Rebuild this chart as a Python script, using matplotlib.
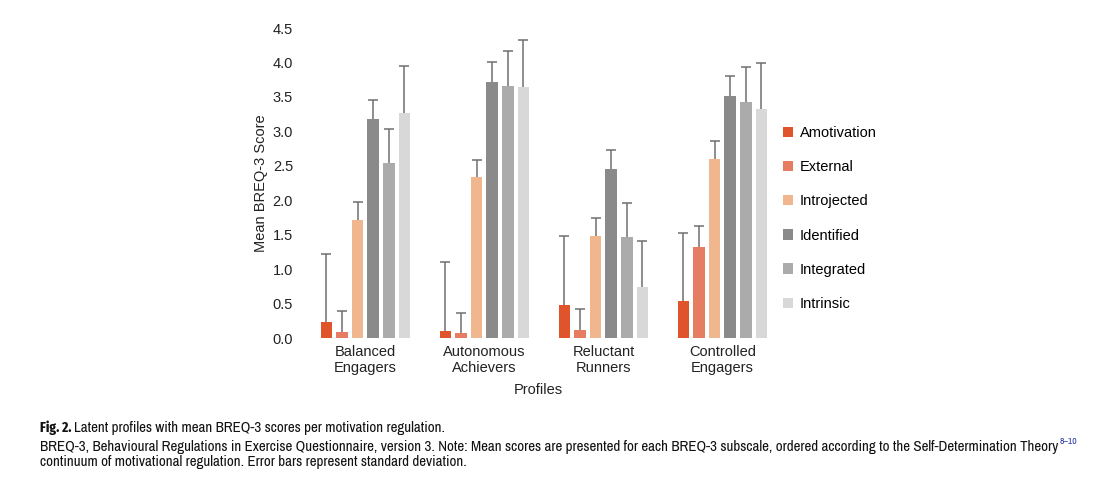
import numpy as np
import matplotlib
matplotlib.use("Agg")
import matplotlib.pyplot as plt

profiles = ["Balanced\nEngagers", "Autonomous\nAchievers", "Reluctant\nRunners", "Controlled\nEngagers"]
regulations = ["Amotivation", "External", "Introjected", "Identified", "Integrated", "Intrinsic"]
colors = ["#E0542C", "#E67D62", "#F0B68E", "#8A8A8A", "#ABABAB", "#D8D8D8"]

# mean per regulation, one value per profile
amotivation = [0.23, 0.10, 0.48, 0.54]
external = [0.08, 0.07, 0.11, 1.32]
introjected = [1.71, 2.33, 1.48, 2.60]
identified = [3.18, 3.71, 2.45, 3.52]
integrated = [2.54, 3.66, 1.46, 3.43]
intrinsic = [3.27, 3.64, 0.74, 3.32]

# standard deviations (upper error bar only)
sd_amotivation = [0.99, 1.00, 1.00, 0.99]
sd_external = [0.31, 0.30, 0.31, 0.30]
sd_introjected = [0.26, 0.26, 0.26, 0.26]
sd_identified = [0.28, 0.29, 0.28, 0.28]
sd_integrated = [0.50, 0.50, 0.50, 0.50]
sd_intrinsic = [0.68, 0.68, 0.67, 0.67]

means = [amotivation, external, introjected, identified, integrated, intrinsic]
sds = [sd_amotivation, sd_external, sd_introjected, sd_identified, sd_integrated, sd_intrinsic]

plt.rcParams["font.family"] = ["Liberation Sans", "DejaVu Sans"]
CAP_FONT = ["Archivo Narrow", "DejaVu Sans"]
BOLD_FONT = ["Fira Sans Extra Condensed", "DejaVu Sans"]

fig = plt.figure(figsize=(11, 4.93), dpi=100)
ax = fig.add_axes([300 / 1100, 1 - 338 / 493, 476 / 1100, 310 / 493])

x = np.arange(len(profiles))
step = 0.131
width = 0.098
for i, (m, s, c, lab) in enumerate(zip(means, sds, colors, regulations)):
    pos = x + (i - 2.5) * step
    top = np.array(m) + np.array(s)
    ax.bar(pos, m, width, color=c, label=lab, zorder=2)
    ax.vlines(pos, m, top, color="#6f6f6f", lw=1.1, zorder=3)
    ax.plot(pos, top, ls="none", marker="_", ms=7, mew=1.1, color="#6f6f6f", zorder=3)

ax.set_xlim(-0.55, 3.45)
ax.set_ylim(0, 4.5)
ticks = np.arange(0, 4.51, 0.5)
ax.set_yticks(ticks)
ax.set_yticklabels([f"{v:.1f}" for v in ticks])
ax.set_xticks(x)
ax.set_xticklabels(profiles)
ax.tick_params(length=0, labelsize=10.5, colors="#222222", pad=5)
for sp in ax.spines.values():
    sp.set_visible(False)
ax.set_ylabel("Mean BREQ-3 Score", fontsize=10.5, color="#222222", labelpad=3)
ax.set_xlabel("Profiles", fontsize=10.5, color="#222222", labelpad=6)

ax.legend(loc="upper left", bbox_to_anchor=(770 / 1100, 1 - 113 / 493),
          bbox_transform=fig.transFigure, frameon=False, fontsize=10.5,
          handlelength=0.7, handleheight=0.7, handletextpad=0.45, labelspacing=1.38)

# caption, bold lead set as its own text
r = fig.canvas.get_renderer()
inv = fig.transFigure.inverted()
t0 = fig.text(40 / 1100, 1 - 428 / 493, "Fig. 2.", family=BOLD_FONT, weight="bold",
              fontsize=10.5, va="center", color="#111111")
x1 = inv.transform((t0.get_window_extent(r).x1 + 3, 0))[0]
fig.text(x1, 1 - 428 / 493, "Latent profiles with mean BREQ-3 scores per motivation regulation.",
         family=CAP_FONT, fontsize=10.8, va="center", color="#111111")
t2 = fig.text(40 / 1100, 1 - 447 / 493,
              "BREQ-3, Behavioural Regulations in Exercise Questionnaire, version 3. Note: Mean scores are presented "
              "for each BREQ-3 subscale, ordered according to the Self-Determination Theory",
              family=CAP_FONT, fontsize=10.8, va="center", color="#111111")
x2 = inv.transform((t2.get_window_extent(r).x1 + 1, 0))[0]
fig.text(x2, 1 - 441 / 493, "8\u201310", family=CAP_FONT, fontsize=7, va="center", color="#2a3aa0")
fig.text(40 / 1100, 1 - 462 / 493,
         "continuum of motivational regulation. Error bars represent standard deviation.",
         family=CAP_FONT, fontsize=10.8, va="center", color="#111111")

fig.savefig("out.png", dpi=100)
